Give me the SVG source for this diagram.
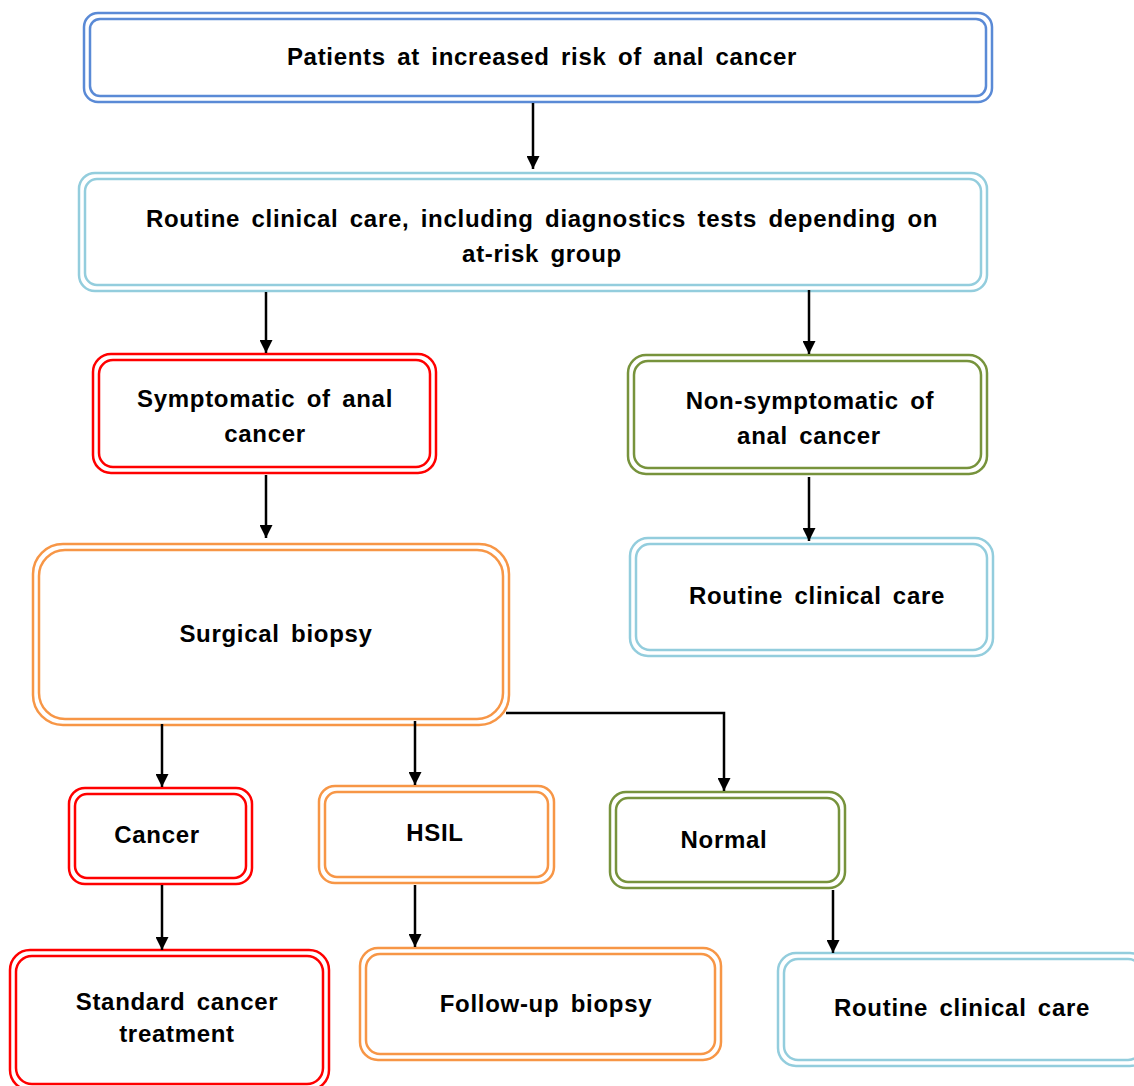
<svg xmlns="http://www.w3.org/2000/svg" width="1134" height="1086" viewBox="0 0 1134 1086">
<defs>
<marker id="ah" viewBox="0 0 10 10" refX="10" refY="5" markerWidth="13" markerHeight="13" markerUnits="userSpaceOnUse" orient="auto">
<path d="M0,0 L10,5 L0,10 z" fill="#000"/>
</marker>
<style>
rect{fill:none;stroke-width:2.5}
.blue rect{stroke:#5a8ad6}
.lb rect{stroke:#93cddd}
.red rect{stroke:#ff0000}
.grn rect{stroke:#77933c}
.org rect{stroke:#f79646}
text{font-family:"Liberation Sans",Arial,sans-serif;font-weight:bold;font-size:24px;fill:#000;text-anchor:middle;letter-spacing:0.7px;word-spacing:4px}
.conn path{fill:none;stroke:#000;stroke-width:2.5;marker-end:url(#ah)}
</style>
</defs>
<rect x="0" y="0" width="1134" height="1086" style="fill:#fff;stroke:none"/>
<g id="n1" class="blue"><rect x="84" y="13" width="908" height="89" rx="14"/><rect x="90" y="19" width="896" height="77" rx="10"/><text x="542" y="65">Patients at increased risk of anal cancer</text></g>
<g id="n2" class="lb"><rect x="79" y="173" width="908" height="118" rx="16"/><rect x="85" y="179" width="896" height="106" rx="12"/><text x="542" y="227">Routine clinical care, including diagnostics tests depending on</text><text x="542" y="262">at-risk group</text></g>
<g id="n3" class="red"><rect x="93" y="354" width="343" height="119" rx="18"/><rect x="99" y="360" width="331" height="107" rx="14"/><text x="265" y="407">Symptomatic of anal</text><text x="265" y="442">cancer</text></g>
<g id="n4" class="grn"><rect x="628" y="355" width="359" height="119" rx="18"/><rect x="634" y="361" width="347" height="107" rx="14"/><text x="810" y="409">Non-symptomatic of</text><text x="809" y="444">anal cancer</text></g>
<g id="n5" class="lb"><rect x="630" y="538" width="363" height="118" rx="18"/><rect x="636" y="544" width="351" height="106" rx="14"/><text x="817" y="604">Routine clinical care</text></g>
<g id="n6" class="org"><rect x="33" y="544" width="476" height="181" rx="30"/><rect x="39" y="550" width="464" height="169" rx="26"/><text x="276" y="642">Surgical biopsy</text></g>
<g id="n7" class="red"><rect x="69" y="788" width="183" height="96" rx="16"/><rect x="75" y="794" width="171" height="84" rx="12"/><text x="157" y="843">Cancer</text></g>
<g id="n8" class="org"><rect x="319" y="786" width="235" height="97" rx="16"/><rect x="325" y="792" width="223" height="85" rx="12"/><text x="435" y="841">HSIL</text></g>
<g id="n9" class="grn"><rect x="610" y="792" width="235" height="96" rx="16"/><rect x="616" y="798" width="223" height="84" rx="12"/><text x="724" y="848">Normal</text></g>
<g id="n10" class="red"><rect x="10" y="950" width="319" height="140" rx="20"/><rect x="16" y="956" width="307" height="128" rx="16"/><text x="177" y="1010">Standard cancer</text><text x="177" y="1042">treatment</text></g>
<g id="n11" class="org"><rect x="360" y="948" width="361" height="112" rx="18"/><rect x="366" y="954" width="349" height="100" rx="14"/><text x="546" y="1012">Follow-up biopsy</text></g>
<g id="n12" class="lb"><rect x="778" y="953" width="370" height="113" rx="18"/><rect x="784" y="959" width="358" height="101" rx="14"/><text x="962" y="1016">Routine clinical care</text></g>
<g id="connectors" class="conn">
<path d="M533,103 V169"/>
<path d="M266,292 V353"/>
<path d="M809,290 V354"/>
<path d="M266,475 V538"/>
<path d="M809,477 V541"/>
<path d="M162,724 V787"/>
<path d="M415,721 V785"/>
<path d="M506,713 H724 V791"/>
<path d="M162,885 V950"/>
<path d="M415,885 V947"/>
<path d="M833,890 V953"/>
</g>
</svg>
